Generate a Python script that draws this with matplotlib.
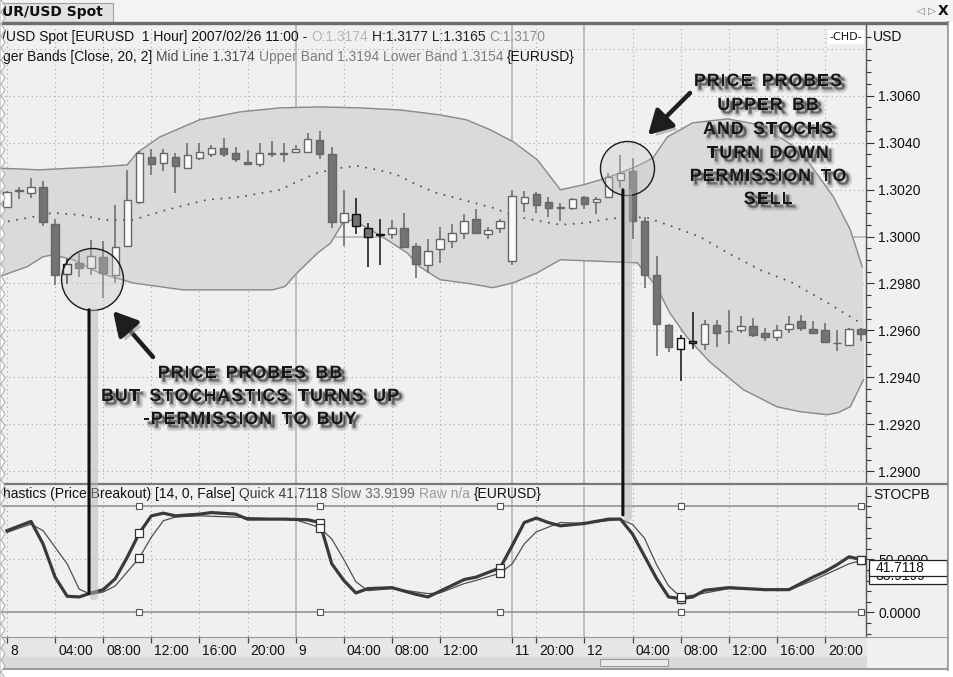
import numpy as np
import matplotlib
matplotlib.use("Agg")
import matplotlib.pyplot as plt
import matplotlib.patheffects as pe
from matplotlib.patches import Rectangle, Polygon, FancyArrowPatch, ConnectionPatch, ArrowStyle
from matplotlib.lines import Line2D
from matplotlib.transforms import Affine2D, ScaledTranslation, blended_transform_factory
from matplotlib.font_manager import FontProperties

W, H = 954, 677
plt.rcParams['font.family'] = ['Liberation Sans', 'DejaVu Sans']

# EUR/USD hourly bars, bar 0 = 8 Feb 2007 00:00
bar_open = [1.30125, 1.30196, 1.30187, 1.30209, 1.30054, 1.29841, 1.29887, 1.29866, 1.29911, 1.29834,
            1.29960, 1.30146, 1.30340, 1.30312, 1.30340, 1.30291, 1.30334, 1.30351, 1.30379, 1.30355,
            1.30319, 1.30308, 1.30355, 1.30355, 1.30359, 1.30362, 1.30411, 1.30352, 1.30061, 1.30097,
            1.30038, 1.30010, 1.30011, 1.30038, 1.29960, 1.29880, 1.29946, 1.29979, 1.30014, 1.30074,
            1.30011, 1.30036, 1.29894, 1.30142, 1.30182, 1.30149, 1.30125, 1.30121, 1.30170, 1.30149,
            1.30170, 1.30241, 1.30281, 1.30064, 1.29837, 1.29621, 1.29521, 1.29553, 1.29543, 1.29624,
            1.29599, 1.29603, 1.29617, 1.29589, 1.29572, 1.29606, 1.29641, 1.29606, 1.29600, 1.29548,
            1.29539, 1.29607]
bar_high = [1.30195, 1.30213, 1.30249, 1.30237, 1.30074, 1.29904, 1.29929, 1.29986, 1.29979, 1.30135,
            1.30284, 1.30366, 1.30372, 1.30372, 1.30357, 1.30397, 1.30400, 1.30390, 1.30419, 1.30383,
            1.30369, 1.30400, 1.30407, 1.30397, 1.30390, 1.30440, 1.30451, 1.30383, 1.30199, 1.30166,
            1.30057, 1.30074, 1.30071, 1.30102, 1.29974, 1.29989, 1.30040, 1.30053, 1.30095, 1.30117,
            1.30040, 1.30074, 1.30196, 1.30194, 1.30191, 1.30168, 1.30142, 1.30165, 1.30173, 1.30170,
            1.30270, 1.30348, 1.30334, 1.30083, 1.29915, 1.29629, 1.29582, 1.29678, 1.29646, 1.29643,
            1.29688, 1.29663, 1.29653, 1.29610, 1.29624, 1.29663, 1.29667, 1.29641, 1.29631, 1.29600,
            1.29609, 1.29611]
bar_low = [1.30120, 1.30160, 1.30163, 1.30043, 1.29794, 1.29797, 1.29827, 1.29837, 1.29738, 1.29802,
           1.29956, 1.30139, 1.30263, 1.30277, 1.30185, 1.30287, 1.30326, 1.30338, 1.30338, 1.30319,
           1.30305, 1.30295, 1.30338, 1.30319, 1.30355, 1.30355, 1.30329, 1.30036, 1.29960, 1.30011,
           1.29872, 1.29877, 1.29989, 1.29951, 1.29823, 1.29844, 1.29889, 1.29953, 1.29989, 1.30011,
           1.29989, 1.30014, 1.29877, 1.30106, 1.30100, 1.30085, 1.30064, 1.30114, 1.30117, 1.30097,
           1.30168, 1.30206, 1.29989, 1.29780, 1.29489, 1.29506, 1.29383, 1.29521, 1.29518, 1.29529,
           1.29543, 1.29591, 1.29572, 1.29553, 1.29557, 1.29591, 1.29596, 1.29586, 1.29548, 1.29511,
           1.29537, 1.29553]
bar_close = [1.30190, 1.30194, 1.30209, 1.30060, 1.29836, 1.29884, 1.29867, 1.29918, 1.29844, 1.29957,
             1.30156, 1.30355, 1.30308, 1.30355, 1.30301, 1.30348, 1.30359, 1.30379, 1.30351, 1.30329,
             1.30308, 1.30357, 1.30352, 1.30352, 1.30372, 1.30416, 1.30351, 1.30060, 1.30102, 1.30046,
             1.30000, 1.30006, 1.30038, 1.29955, 1.29884, 1.29939, 1.29989, 1.30017, 1.30064, 1.30014,
             1.30029, 1.30064, 1.30173, 1.30168, 1.30135, 1.30121, 1.30122, 1.30159, 1.30138, 1.30160,
             1.30253, 1.30272, 1.30064, 1.29837, 1.29629, 1.29528, 1.29568, 1.29548, 1.29629, 1.29589,
             1.29597, 1.29619, 1.29582, 1.29570, 1.29600, 1.29629, 1.29610, 1.29589, 1.29551, 1.29546,
             1.29607, 1.29585]
marked_bars = [5, 29, 30, 31, 56, 57]

# Bollinger bands (20, 2)
upper_bar = [-0.6, 2.7, 7.7, 10.0, 10.8, 12.7, 16.0, 19.4, 22.7, 26.0, 29.3, 32.7, 36.0, 38.2, 40.2, 42.1,
             44.1, 46.0, 47.9, 49.3, 51.0, 52.6, 53.7, 54.9, 57.0, 59.9, 62.6, 65.9, 68.7, 70.1, 71.1]
upper_val = [1.30291, 1.30284, 1.30297, 1.30305, 1.30356, 1.30424, 1.30497, 1.30531, 1.30548, 1.30552,
             1.30548, 1.30539, 1.30518, 1.30497, 1.30454, 1.30403, 1.30326, 1.30199, 1.30220, 1.30241,
             1.30271, 1.30305, 1.30335, 1.30424, 1.30484, 1.30501, 1.30475, 1.30369, 1.30169, 1.30029,
             1.29871]
lower_bar = [-0.6, 1.7, 3.0, 3.8, 5.5, 7.7, 10.5, 14.6, 19.4, 22.1, 23.1, 24.1, 25.8, 26.9, 27.9, 28.7,
             30.2, 31.6, 33.3, 34.3, 36.0, 38.5, 40.4, 42.1, 44.1, 46.0, 49.5, 52.4, 54.0, 55.1, 56.5,
             58.4, 61.2, 64.0, 65.9, 68.2, 69.1, 70.1, 71.2]
lower_val = [1.29830, 1.29872, 1.29914, 1.29922, 1.29901, 1.29844, 1.29802, 1.29773, 1.29773, 1.29773,
             1.29787, 1.29844, 1.29929, 1.29972, 1.30057, 1.30071, 1.30029, 1.29986, 1.29929, 1.29872,
             1.29816, 1.29799, 1.29782, 1.29803, 1.29846, 1.29901, 1.29894, 1.29888, 1.29786, 1.29675,
             1.29573, 1.29467, 1.29348, 1.29275, 1.29254, 1.29241, 1.29250, 1.29275, 1.29390]
mid_bar = [-0.6, 2.2, 3.8, 6.1, 8.0, 10.5, 13.3, 16.6, 19.4, 22.7, 24.1, 25.8, 27.7, 29.1, 30.8, 32.4, 34.1,
           35.7, 37.9, 40.4, 42.4, 46.0, 48.2, 49.5, 51.5, 53.2, 55.4, 57.6, 59.9, 62.6, 65.3, 68.2, 70.9]
mid_val = [1.30058, 1.30084, 1.30101, 1.30092, 1.30071, 1.30071, 1.30114, 1.30156, 1.30169, 1.30199,
           1.30233, 1.30271, 1.30292, 1.30301, 1.30284, 1.30263, 1.30220, 1.30186, 1.30156, 1.30122,
           1.30084, 1.30050, 1.30058, 1.30071, 1.30084, 1.30080, 1.30041, 1.29999, 1.29931, 1.29858,
           1.29803, 1.29718, 1.29633]

# Stochastics (price breakout) quick / slow
quick_bar = [0, 1, 2, 3, 4, 5, 6, 7, 8, 9, 10, 11, 12, 13, 14, 16, 17, 19, 20, 23, 25, 26, 27, 28, 29, 30,
             32, 34, 35, 37, 38, 39, 41, 42, 43, 44, 45, 46, 48, 50, 51, 52, 53, 54, 55, 56, 57, 58, 60,
             63, 65, 67, 68, 69, 70, 71]
quick_val = [77.1, 81.5, 85.8, 64.6, 33.3, 15.3, 14.6, 18.4, 21.5, 31.8, 52.1, 74.9, 91.1, 93.6, 91.1,
             92.7, 94.2, 92.7, 88.0, 88.0, 87.4, 84.8, 45.9, 30.2, 18.4, 22.5, 23.4, 17.1, 14.6, 25.5,
             31.0, 33.3, 42.1, 63.0, 84.8, 89.0, 84.8, 81.7, 83.9, 88.0, 88.0, 74.0, 53.0, 32.0, 14.6,
             13.1, 14.6, 20.9, 23.4, 21.5, 21.5, 33.3, 38.5, 45.0, 52.5, 49.9]
slow_bar = [0, 1, 2, 3, 5, 6, 7, 8, 9, 11, 12, 13, 14, 16, 20, 24, 26, 27, 28, 29, 30, 32, 35, 36, 38, 39,
            41, 42, 43, 44, 46, 48, 51, 52, 53, 54, 55, 56, 57, 60, 65, 67, 70, 71]
slow_val = [75.5, 79.5, 83.3, 77.1, 45.9, 22.0, 16.9, 19.3, 25.0, 51.5, 71.0, 86.5, 90.0, 91.1, 89.5,
            87.4, 80.1, 69.3, 50.0, 29.0, 20.5, 22.5, 17.8, 18.4, 27.2, 30.2, 37.1, 45.9, 64.6, 76.0,
            84.8, 83.9, 88.0, 83.0, 70.0, 45.0, 25.0, 14.6, 16.2, 22.5, 20.9, 30.2, 45.9, 49.0]
quick_last, slow_last = 41.7118, 33.9199
handle_bars = [11, 26, 41, 56, 71]

tick_bars = [0, 4, 8, 12, 16, 20, 24, 28, 32, 36, 42, 44, 48, 52, 56, 60, 64, 68]
tick_text = ['8', '04:00', '08:00', '12:00', '16:00', '20:00', '9', '04:00', '08:00', '12:00',
             '11', '20:00', '12', '04:00', '08:00', '12:00', '16:00', '20:00']
day_bars = [24, 42, 48]
price_ticks = [1.2900, 1.2920, 1.2940, 1.2960, 1.2980, 1.3000, 1.3020, 1.3040, 1.3060]
grid_levels = price_ticks + [1.3080]

BG = '#f0f0f0'
DOT = (0, (1, 3))

fig = plt.figure(figsize=(W / 100, H / 100), dpi=100)
fig.patch.set_facecolor('white')
px = Affine2D().scale(1 / W, -1 / H).translate(0, 1) + fig.transFigure


def rect(x0, y0, x1, y1, **kw):
    fig.add_artist(Rectangle((x0, y0), x1 - x0, y1 - y0, transform=px, **kw))


def seg(xs, ys, **kw):
    fig.add_artist(Line2D(xs, ys, transform=px, **kw))


def fbox(x0, y0, x1, y1):
    return [x0 / W, 1 - y1 / H, (x1 - x0) / W, (y1 - y0) / H]


# window frame
rect(0, 0, W, 22, color='#f3f3f3', zorder=0)
rect(0, 3, 113, 22, fc='#e2e2e2', ec='#a0a0a0', lw=0.8, zorder=0)
rect(0, 23, 948, 669, color=BG, zorder=0)
rect(0, 637, 866, 656, color='#e6e6e6', zorder=0)
rect(0, 657, 866, 668, color='#d9d9d9', zorder=0)
rect(600, 659, 668, 666, fc='#ececec', ec='#9a9a9a', lw=0.8, zorder=0)
seg([0, 948], [22.5, 22.5], color='#6c6c6c', lw=2.4)
seg([0, 948], [484, 484], color='#7a7a7a', lw=1.6)
seg([0, 948], [636.5, 636.5], color='#9a9a9a', lw=0.8)
seg([0, 948], [669, 669], color='#8a8a8a', lw=1.2)
seg([948.5, 948.5], [22, 670], color='#8a8a8a', lw=1.2)
fig.text(2, 12, 'UR/USD Spot', transform=px, family='DejaVu Sans', weight='bold', size=10,
         ha='left', va='center', color='#111')
fig.text(921, 11, '\u25c1', transform=px, family='DejaVu Sans', size=7.5, color='#777',
         ha='center', va='center')
fig.text(932, 11, '\u25b7', transform=px, family='DejaVu Sans', size=7.5, color='#777',
         ha='center', va='center')
fig.text(943, 11, 'X', transform=px, family='DejaVu Sans', weight='bold', size=10, color='#111',
         ha='center', va='center', zorder=25)

# price panel
ax_p = fig.add_axes(fbox(0, 25, 866, 483))
ax_s = fig.add_axes(fbox(0, 487, 866, 636))
for ax in (ax_p, ax_s):
    ax.set_facecolor(BG)
    for side in ('left', 'top', 'bottom'):
        ax.spines[side].set_visible(False)
    ax.spines['right'].set_color('#555555')
    ax.spines['right'].set_linewidth(1.0)
    ax.set_xlim(-0.58, 71.41)
    ax.yaxis.tick_right()
    ax.tick_params(axis='y', which='major', length=6, width=0.8, color='#333', pad=3,
                   labelsize=10, labelcolor='#111')
    ax.tick_params(axis='y', which='minor', length=3.5, width=0.8, color='#333')
    for kb in tick_bars:
        if kb in day_bars:
            ax.axvline(kb, color='#b4b4b4', lw=1.2, zorder=0.5)
        else:
            ax.axvline(kb, color='#a8a8a8', lw=0.8, ls=DOT, zorder=0.5)

ax_p.set_ylim(1.28952, 1.30901)
ax_p.set_yticks(price_ticks)
ax_p.set_yticklabels([f'{v:.4f}' for v in price_ticks])
ax_p.set_yticks(np.arange(1.2895, 1.3090, 0.0005), minor=True)
ax_p.tick_params(axis='x', bottom=False, labelbottom=False)
for lv in grid_levels:
    if abs(lv - 1.3) < 1e-9:
        ax_p.axhline(lv, color='#b4b4b4', lw=1.2, zorder=0.5)
    else:
        ax_p.axhline(lv, color='#a8a8a8', lw=0.8, ls=DOT, zorder=0.5)

band_x = np.r_[upper_bar, lower_bar[::-1]]
band_y = np.r_[upper_val, lower_val[::-1]]
ax_p.fill(band_x, band_y, color='#dadada', zorder=1)
ax_p.plot(upper_bar, upper_val, color='#8a8a8a', lw=1.0, zorder=1.2)
ax_p.plot(lower_bar, lower_val, color='#8a8a8a', lw=1.0, zorder=1.2)
ax_p.plot(mid_bar, mid_val, color='#4a4a4a', lw=1.2, ls=(0, (1, 4)), zorder=1.2)

bars = np.arange(len(bar_open))
o, hi, lo, c = (np.asarray(a) for a in (bar_open, bar_high, bar_low, bar_close))
edge = ['#111111' if i in marked_bars else '#666666' for i in bars]
body = ['#fafafa' if c[i] >= o[i] else '#737373' for i in bars]
ax_p.vlines(bars, lo, hi, colors=edge, lw=1.1, zorder=3)
ax_p.bar(bars, np.abs(c - o), bottom=np.minimum(o, c), width=0.62, color=body,
         edgecolor=edge, linewidth=1.0, zorder=4)

# stochastics panel
ax_s.set_ylim(-22.2, 118.3)
ax_s.set_yticks([0, 50])
ax_s.set_yticklabels(['0.0000', '50.0000'])
ax_s.set_yticks(np.arange(-20, 111, 10), minor=True)
ax_s.axhline(50, color='#a8a8a8', lw=0.8, ls=DOT, zorder=0.5)
for lv in (0, 100):
    ax_s.axhline(lv, color='#8c8c8c', lw=1.1, zorder=1)
    ax_s.plot(handle_bars, [lv] * len(handle_bars), ls='none', marker='s', ms=5,
              mfc='white', mec='#555', mew=0.8, zorder=5)
ax_s.plot(slow_bar, slow_val, color='#505050', lw=0.9, zorder=2)
ax_s.plot(quick_bar, quick_val, color='#3a3a3a', lw=2.3, zorder=3)
for kb_list, vals in ((quick_bar, quick_val), (slow_bar, slow_val)):
    hx = [b for b in kb_list if b in handle_bars]
    hy = [v for b, v in zip(kb_list, vals) if b in handle_bars]
    ax_s.plot(hx, hy, ls='none', marker='s', ms=5.5, mfc='white', mec='#333', mew=0.9, zorder=5)

ax_s.set_xticks(tick_bars)
ax_s.set_xticklabels(tick_text)
ax_s.tick_params(axis='x', direction='out', length=5, width=0.9, color='#444', pad=1,
                 labelsize=10, labelcolor='#111')
shift = ScaledTranslation(3 / 100, 0, fig.dpi_scale_trans)
for lab in ax_s.get_xticklabels():
    lab.set_horizontalalignment('left')
    lab.set_transform(lab.get_transform() + shift)

# last-value boxes on the stochastics scale
right_y = blended_transform_factory(ax_s.transAxes, ax_s.transData)
for val, z in ((slow_last, 6), (quick_last, 7)):
    ax_s.add_patch(Rectangle((1.0035, val - 7.3), 0.09, 14.6, transform=right_y, clip_on=False,
                             fc='white', ec='#222', lw=0.9, zorder=z))
    ax_s.text(1.011, val, f'{val:.4f}', transform=right_y, size=10, color='#111',
              ha='left', va='center', zorder=z, clip_on=False)

# header lines
r = fig.canvas.get_renderer()
fp_hdr = FontProperties(family='Liberation Sans', size=10)


def text_width(s, fp):
    return r.get_text_width_height_descent(s, fp, ismath=False)[0]


def run_text(x, y, pieces, fp):
    gap = text_width('a a', fp) - text_width('aa', fp)
    for s, col in pieces:
        fig.text(x, y, s, transform=px, fontproperties=fp, color=col, ha='left', va='center')
        x += text_width(s, fp) + gap


run_text(2, 37, [('/USD Spot [EURUSD  1 Hour] 2007/02/26 11:00 -', '#111'), ('O:1.3174', '#b4b4b4'),
                 ('H:1.3177 L:1.3165', '#222'), ('C:1.3170', '#8c8c8c')], fp_hdr)
run_text(3, 57, [('ger Bands [Close, 20, 2]', '#111'), ('Mid Line 1.3174', '#4c4c4c'),
                 ('Upper Band 1.3194', '#7c7c7c'), ('Lower Band 1.3154', '#7c7c7c'),
                 ('{EURUSD}', '#111')], fp_hdr)
run_text(3, 494, [('hastics (Price Breakout) [14, 0, False]', '#111'), ('Quick 41.7118', '#3c3c3c'),
                  ('Slow 33.9199', '#6c6c6c'), ('Raw n/a', '#9c9c9c'), ('{EURUSD}', '#111')], fp_hdr)
fig.text(873, 37, 'USD', transform=px, fontproperties=fp_hdr, color='#111', ha='left', va='center')
fig.text(873, 495, 'STOCPB', transform=px, fontproperties=fp_hdr, color='#111', ha='left', va='center')
fig.text(846, 37, '-CHD-', transform=px, family='DejaVu Sans', size=8, color='#111', ha='center',
         va='center', bbox=dict(boxstyle='square,pad=0.15', fc='white', ec='none'))

# annotations
shadow = [pe.Stroke(offset=(3, -3), linewidth=3.5, foreground='#b4b4b4', alpha=0.55),
          pe.Stroke(offset=(2.5, -2.5), linewidth=1.2, foreground='#8c8c8c', alpha=0.6),
          pe.Normal()]
fp_note = FontProperties(family='Liberation Sans', weight='bold', size=12.8)


def spaced(xc, yb, s, track=1.1):
    base = text_width('HH', fp_note)
    adv = [text_width('H' + ch + 'H', fp_note) - base for ch in s]
    adv = [a * 1.5 if ch == ' ' else a for ch, a in zip(s, adv)]
    x = xc - (sum(adv) + track * (len(s) - 1)) / 2
    for ch, a in zip(s, adv):
        if ch != ' ':
            fig.text(x, yb, ch, transform=px, fontproperties=fp_note, color='#161616',
                     ha='left', va='baseline', path_effects=shadow, zorder=10)
        x += a + track


for line, yb in (('PRICE PROBES BB', 378), ('BUT STOCHASTICS TURNS UP', 401), ('-PERMISSION TO BUY', 424)):
    spaced(250, yb, line)
for line, yb in (('PRICE PROBES', 86), ('UPPER BB', 110), ('AND STOCHS', 134), ('TURN DOWN', 158),
                 ('PERMISSION TO', 181), ('SELL', 204)):
    spaced(768, yb, line)

for kc, pc, dia in ((7.07, 1.29820, 44.6), (51.54, 1.30292, 38.9)):
    ax_p.plot([kc], [pc], marker='o', ms=dia, mfc=(0.78, 0.78, 0.78, 0.35), mec='#1a1a1a',
              mew=1.0, zorder=6)

line_shadow = [pe.Stroke(offset=(3.5, -2), linewidth=6, foreground='#b8b8b8', alpha=0.5), pe.Normal()]
for kx, p_top, s_end in ((6.82, 1.29688, 18.0), (51.2, 1.30199, 92.0)):
    con = ConnectionPatch(xyA=(kx, p_top), coordsA=ax_p.transData, xyB=(kx, s_end),
                          coordsB=ax_s.transData, color='#111', lw=2.2, zorder=8)
    con.set_path_effects(line_shadow)
    fig.add_artist(con)

arrow_style = ArrowStyle('-|>', head_length=0.9, head_width=0.5)
for tail, tip in (((153, 357), (113, 311)), ((690, 93), (648, 135))):
    arr = FancyArrowPatch(tail, tip, transform=px, arrowstyle=arrow_style, mutation_scale=16,
                          lw=3.2, color='#1e1e1e', shrinkA=0, shrinkB=0, zorder=9)
    arr.set_path_effects([pe.SimplePatchShadow(offset=(3, -3), shadow_rgbFace='#9a9a9a', alpha=0.6),
                          pe.Normal()])
    fig.add_artist(arr)

# ragged left edge of the capture
zig_y = np.arange(0, H + 6, 6)
zig_x = np.where(np.arange(len(zig_y)) % 2 == 0, 1.0, 5.0)
fig.add_artist(Polygon(np.c_[np.r_[0, zig_x, 0], np.r_[0, zig_y, H]], closed=True, transform=px,
                       fc='white', ec='#b0b0b0', lw=0.8, zorder=20))
rect(949.5, 22, W, H, color='white', zorder=20)

fig.savefig('out.png', dpi=100)
